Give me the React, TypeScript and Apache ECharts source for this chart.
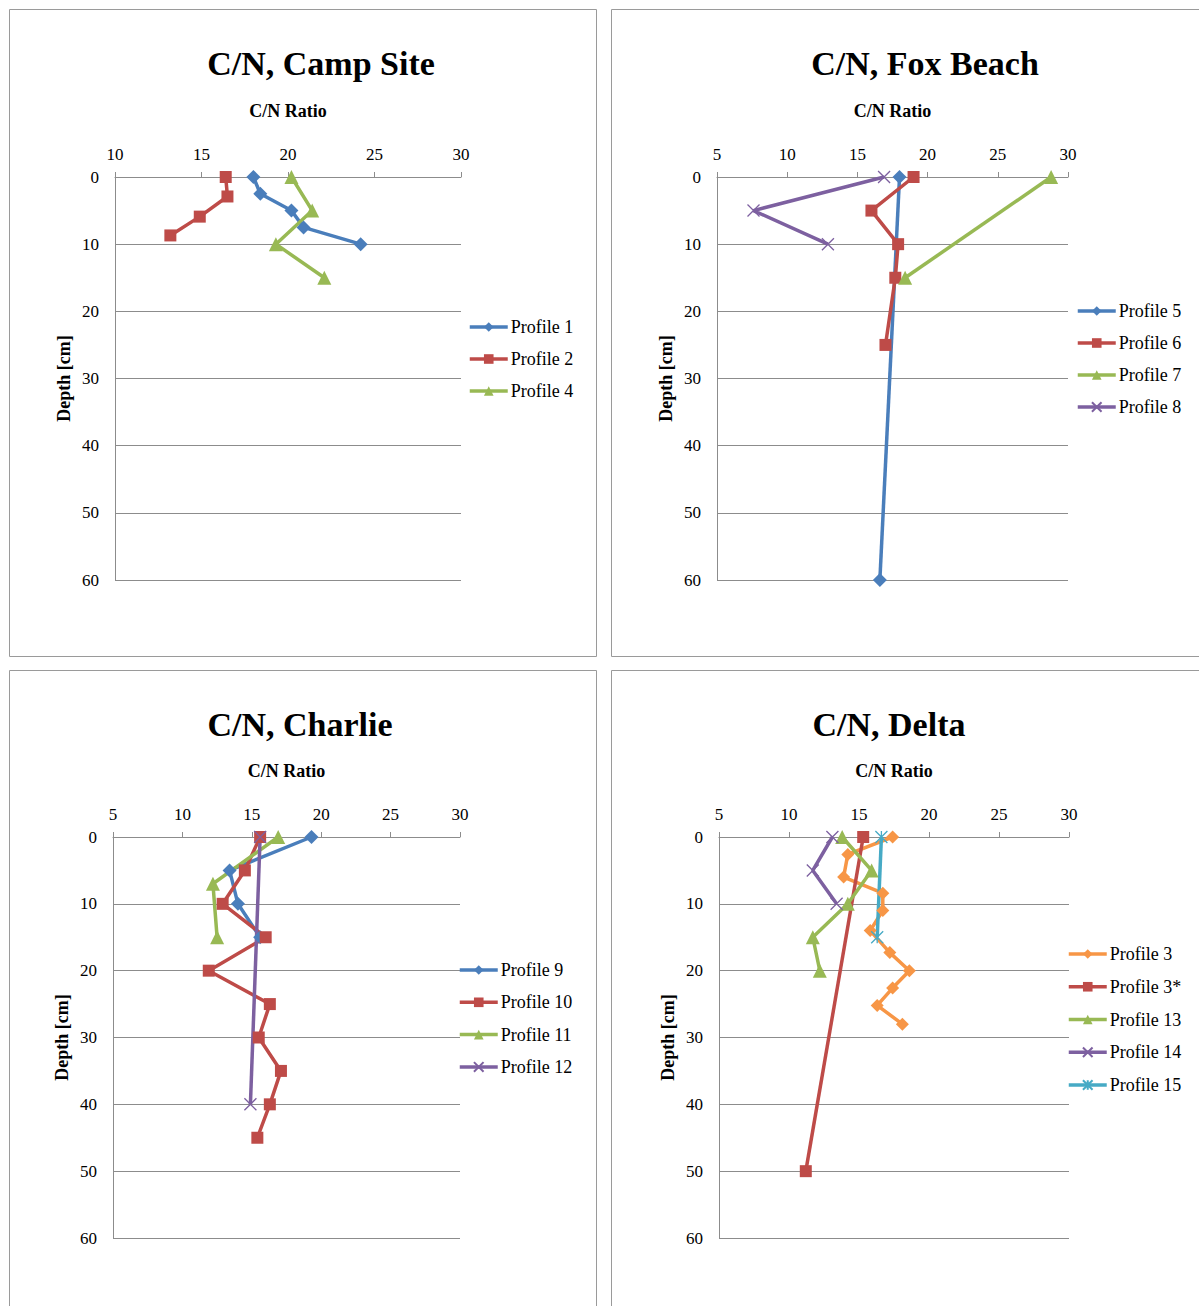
import { useEffect, useRef } from "react";
import * as echarts from "echarts";

const FONT = "Liberation Serif";

const panelTitles = ["C/N, Camp Site", "C/N, Fox Beach", "C/N, Charlie", "C/N, Delta"];
const xAxisTitle = "C/N Ratio";
const yAxisTitle = "Depth [cm]";
const xMins = [10, 5, 5, 5];
const xMax = 30;
const xStep = 5;
const depthMin = 0;
const depthMax = 60;
const depthStep = 10;

// Camp Site
const p1Ratio = [18.0, 18.4, 20.2, 20.9, 24.2];
const p1Depth = [0, 2.5, 5, 7.5, 10];
const p2Ratio = [16.4, 16.5, 14.9, 13.2];
const p2Depth = [0, 2.9, 5.9, 8.7];
const p4Ratio = [20.2, 21.4, 19.3, 22.1];
const p4Depth = [0, 5, 10, 15];

// Fox Beach
const p5Ratio = [18.0, 16.6];
const p5Depth = [0, 60];
const p6Ratio = [19.0, 16.0, 17.9, 17.7, 17.0];
const p6Depth = [0, 5, 10, 15, 25];
const p7Ratio = [28.8, 18.4];
const p7Depth = [0, 15];
const p8Ratio = [16.9, 7.6, 12.9];
const p8Depth = [0, 5, 10];

// Charlie
const p9Ratio = [19.3, 13.4, 14.0, 15.6];
const p9Depth = [0, 5, 10, 15];
const p10Ratio = [15.6, 14.5, 12.9, 16.0, 11.9, 16.3, 15.5, 17.1, 16.3, 15.4];
const p10Depth = [0, 5, 10, 15, 20, 25, 30, 35, 40, 45];
const p11Ratio = [16.9, 12.2, 12.5];
const p11Depth = [0, 7, 15];
const p12Ratio = [15.6, 14.9];
const p12Depth = [0, 40];

// Delta
const p3Ratio = [17.4, 14.2, 13.9, 16.7, 16.7, 15.8, 17.2, 18.6, 17.4, 16.3, 18.1];
const p3Depth = [0, 2.6, 6.0, 8.4, 11.0, 14.0, 17.3, 20.0, 22.6, 25.2, 28.0];
const p3sRatio = [15.3, 11.2];
const p3sDepth = [0, 50];
const p13Ratio = [13.8, 15.9, 14.2, 11.7, 12.2];
const p13Depth = [0, 5, 10, 15, 20];
const p14Ratio = [13.1, 11.7, 13.4];
const p14Depth = [0, 5, 10];
const p15Ratio = [16.6, 16.3];
const p15Depth = [0, 15];

const BLUE = "#4A7EBB";
const RED = "#BE4B48";
const GREEN = "#98B954";
const PURPLE = "#7D60A0";
const CYAN = "#46AAC5";
const ORANGE = "#F79646";

const XMARK = "path://M0,0 L10,10 M10,0 L0,10";
const STAR = "path://M0,0 L10,10 M10,0 L0,10 M5,0 L5,10";

type SDef = { name: string; panel: number; ratio: number[]; depth: number[]; color: string; symbol: string; size: number; stroke?: boolean };

const seriesDefs: SDef[] = [
  { name: "Profile 1", panel: 0, ratio: p1Ratio, depth: p1Depth, color: BLUE, symbol: "diamond", size: 14 },
  { name: "Profile 2", panel: 0, ratio: p2Ratio, depth: p2Depth, color: RED, symbol: "rect", size: 12 },
  { name: "Profile 4", panel: 0, ratio: p4Ratio, depth: p4Depth, color: GREEN, symbol: "triangle", size: 14 },
  { name: "Profile 5", panel: 1, ratio: p5Ratio, depth: p5Depth, color: BLUE, symbol: "diamond", size: 14 },
  { name: "Profile 6", panel: 1, ratio: p6Ratio, depth: p6Depth, color: RED, symbol: "rect", size: 12 },
  { name: "Profile 7", panel: 1, ratio: p7Ratio, depth: p7Depth, color: GREEN, symbol: "triangle", size: 14 },
  { name: "Profile 8", panel: 1, ratio: p8Ratio, depth: p8Depth, color: PURPLE, symbol: XMARK, size: 12, stroke: true },
  { name: "Profile 9", panel: 2, ratio: p9Ratio, depth: p9Depth, color: BLUE, symbol: "diamond", size: 14 },
  { name: "Profile 10", panel: 2, ratio: p10Ratio, depth: p10Depth, color: RED, symbol: "rect", size: 12 },
  { name: "Profile 11", panel: 2, ratio: p11Ratio, depth: p11Depth, color: GREEN, symbol: "triangle", size: 14 },
  { name: "Profile 12", panel: 2, ratio: p12Ratio, depth: p12Depth, color: PURPLE, symbol: XMARK, size: 12, stroke: true },
  { name: "Profile 3", panel: 3, ratio: p3Ratio, depth: p3Depth, color: ORANGE, symbol: "diamond", size: 13 },
  { name: "Profile 3*", panel: 3, ratio: p3sRatio, depth: p3sDepth, color: RED, symbol: "rect", size: 12 },
  { name: "Profile 13", panel: 3, ratio: p13Ratio, depth: p13Depth, color: GREEN, symbol: "triangle", size: 14 },
  { name: "Profile 14", panel: 3, ratio: p14Ratio, depth: p14Depth, color: PURPLE, symbol: XMARK, size: 12, stroke: true },
  { name: "Profile 15", panel: 3, ratio: p15Ratio, depth: p15Depth, color: CYAN, symbol: STAR, size: 12, stroke: true },
];

const gridBoxes = [
  { left: 115, top: 177, width: 346, height: 403 },
  { left: 717, top: 177, width: 351, height: 403 },
  { left: 113, top: 837, width: 347, height: 401 },
  { left: 719, top: 837, width: 350, height: 401 },
];
const titleCenters = [
  [321, 63],
  [925, 63],
  [300, 724],
  [889, 724],
];
const legendPos = [
  { left: 468, top: 317, gap: 12 },
  { left: 1076, top: 301, gap: 12 },
  { left: 458, top: 960, gap: 12.3 },
  { left: 1067, top: 944, gap: 12.75 },
];
const panelBoxes = [
  { x: 9, y: 9, w: 587, h: 647 },
  { x: 611, y: 9, w: 620, h: 647 },
  { x: 9, y: 670, w: 587, h: 700 },
  { x: 611, y: 670, w: 620, h: 700 },
];

const AXIS_GRAY = "#8C8C8C";

export default function App() {
  const ref = useRef<HTMLDivElement>(null);
  useEffect(() => {
    if (!ref.current) return;
    const chart = echarts.init(ref.current, undefined, { renderer: "svg" });
    const panels = [0, 1, 2, 3];
    const option: any = {
      animation: false,
      backgroundColor: "#ffffff",
      textStyle: { fontFamily: FONT },
      title: panels.map((i) => ({
        text: panelTitles[i],
        left: titleCenters[i][0],
        top: titleCenters[i][1] - 20,
        textAlign: "center",
        padding: 0,
        textStyle: { fontFamily: FONT, fontSize: 34, fontWeight: "bold", color: "#000", lineHeight: 40 },
      })),
      grid: gridBoxes.map((g) => ({ ...g, containLabel: false })),
      xAxis: panels.map((i) => ({
        type: "value",
        gridIndex: i,
        position: "top",
        min: xMins[i],
        max: xMax,
        interval: xStep,
        name: xAxisTitle,
        nameLocation: "middle",
        nameGap: 57,
        nameTextStyle: { fontFamily: FONT, fontSize: 18, fontWeight: "bold", color: "#000" },
        axisLine: { show: true, lineStyle: { color: AXIS_GRAY, width: 1 } },
        axisTick: { show: true, length: 5, lineStyle: { color: AXIS_GRAY } },
        axisLabel: { fontFamily: FONT, fontSize: 17, color: "#000", margin: 14 },
        splitLine: { show: false },
      })),
      yAxis: panels.map((i) => ({
        type: "value",
        gridIndex: i,
        inverse: true,
        min: depthMin,
        max: depthMax,
        interval: depthStep,
        name: yAxisTitle,
        nameLocation: "middle",
        nameGap: 42,
        nameTextStyle: { fontFamily: FONT, fontSize: 18, fontWeight: "bold", color: "#000" },
        axisLine: { show: true, lineStyle: { color: AXIS_GRAY, width: 1 } },
        axisTick: { show: false },
        axisLabel: { fontFamily: FONT, fontSize: 17, color: "#000", margin: 16 },
        splitLine: { show: true, lineStyle: { color: AXIS_GRAY, width: 1 } },
      })),
      legend: panels.map((i) => ({
        orient: "vertical",
        left: legendPos[i].left,
        top: legendPos[i].top,
        padding: 0,
        itemGap: legendPos[i].gap,
        itemWidth: 38,
        itemHeight: 12,
        lineStyle: { width: 3.5 },
        data: seriesDefs.filter((s) => s.panel === i).map((s) => s.name),
        textStyle: { fontFamily: FONT, fontSize: 18, color: "#000", lineHeight: 20, padding: [0, 0, 0, -2] },
      })),
      series: seriesDefs.map((s) => ({
        name: s.name,
        type: "line",
        xAxisIndex: s.panel,
        yAxisIndex: s.panel,
        data: s.ratio.map((r, k) => [r, s.depth[k]]),
        symbol: s.symbol,
        symbolSize: s.size,
        showAllSymbol: true,
        lineStyle: { color: s.color, width: 3.5 },
        itemStyle: s.stroke
          ? { color: s.color, borderColor: s.color, borderWidth: 1.3 }
          : { color: s.color },
        emphasis: { disabled: true },
      })),
      graphic: panelBoxes.map((b) => ({
        type: "rect",
        shape: { x: b.x + 0.5, y: b.y + 0.5, width: b.w, height: b.h },
        style: { fill: "none", stroke: "#9A9A9A", lineWidth: 1 },
        silent: true,
        z: -1,
      })),
    };
    chart.setOption(option);
    return () => chart.dispose();
  }, []);
  return (
    <div
      ref={ref}
      style={{ position: "absolute", left: 0, top: 0, width: 1199, height: 1306, background: "#fff" }}
    />
  );
}
